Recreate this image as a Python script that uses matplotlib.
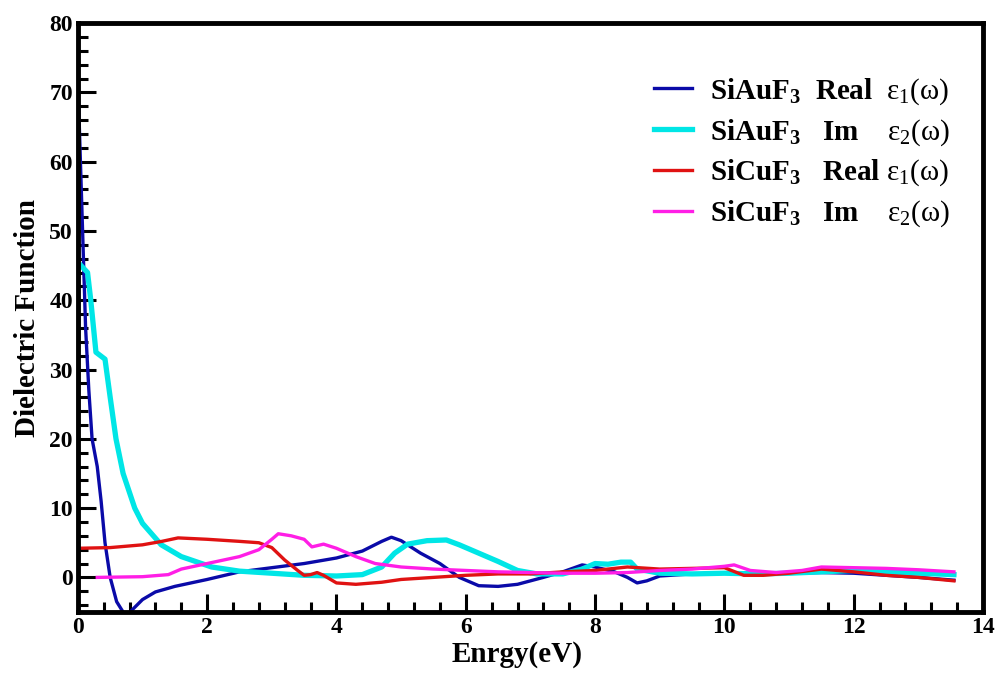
import matplotlib.pyplot as plt
from matplotlib.ticker import MultipleLocator

plt.rcParams['font.family'] = ['Liberation Serif', 'DejaVu Serif']
plt.rcParams['font.weight'] = 'bold'
plt.rcParams['mathtext.fontset'] = 'custom'
plt.rcParams['mathtext.rm'] = 'Liberation Serif:bold'
plt.rcParams['mathtext.sf'] = 'Liberation Serif:weight=normal'
plt.rcParams['mathtext.it'] = 'Liberation Serif:italic'

# SiAuF3 real part
au_re_x = [0.0, 0.04, 0.08, 0.12, 0.17, 0.22, 0.3, 0.36, 0.42, 0.5, 0.6, 0.7, 0.78, 0.85,
           1.0, 1.2, 1.5, 2.0, 2.5, 3.0, 3.5, 4.0, 4.4, 4.7, 4.85, 5.0, 5.3, 5.6, 5.9,
           6.2, 6.5, 6.8, 7.2, 7.5, 7.8, 8.0, 8.3, 8.5, 8.65, 8.8, 9.0, 9.5, 10.0,
           10.5, 11.0, 11.5, 12.0, 12.5, 13.0, 13.55]
au_re_y = [72, 60, 48, 36, 27, 20, 16, 11, 5, 0, -3.5, -5.0, -5.3, -4.6,
           -3.2, -2.1, -1.3, -0.3, 0.8, 1.4, 2.0, 2.8, 3.8, 5.2, 5.8, 5.3, 3.5, 2.0, 0.0,
           -1.2, -1.3, -1.0, 0.0, 0.8, 1.8, 1.5, 0.8, 0.0, -0.8, -0.5, 0.2, 0.5, 0.6,
           0.6, 0.6, 0.7, 0.6, 0.3, 0.0, -0.4]

# SiAuF3 imaginary part
au_im_x = [0.05, 0.15, 0.2, 0.28, 0.42, 0.5, 0.59, 0.7, 0.88, 1.0, 1.29, 1.6, 2.07, 2.5,
           3.0, 3.5, 4.0, 4.4, 4.7, 4.9, 5.1, 5.4, 5.7, 5.9, 6.2, 6.5, 6.8, 7.1, 7.5,
           7.8, 8.0, 8.2, 8.4, 8.55, 8.65, 9.0, 9.5, 10.0, 10.5, 11.0, 11.5, 12.0,
           12.5, 13.0, 13.55]
au_im_y = [45, 44, 40, 32.5, 31.5, 26, 20, 15, 10, 7.8, 4.7, 3.0, 1.5, 0.9,
           0.6, 0.3, 0.2, 0.4, 1.5, 3.5, 4.8, 5.3, 5.4, 4.7, 3.5, 2.3, 1.0, 0.5, 0.5,
           1.2, 2.0, 1.9, 2.2, 2.2, 1.2, 0.6, 0.5, 0.6, 0.5, 0.6, 0.8, 1.0,
           0.8, 0.6, 0.4]

# SiCuF3 real part
cu_re_x = [0.0, 0.5, 1.0, 1.3, 1.55, 2.0, 2.5, 2.8, 3.0, 3.2, 3.4, 3.5, 3.6, 3.7, 3.8,
           4.0, 4.3, 4.7, 5.0, 5.5, 6.0, 6.5, 7.0, 7.5, 8.0, 8.5, 9.0, 9.5, 10.0,
           10.3, 10.6, 11.0, 11.5, 12.0, 12.5, 13.0, 13.55]
cu_re_y = [4.2, 4.3, 4.7, 5.2, 5.7, 5.5, 5.2, 5.0, 4.3, 2.5, 1.0, 0.3, 0.4, 0.7, 0.3,
           -0.8, -1.0, -0.7, -0.3, 0.0, 0.3, 0.5, 0.5, 0.8, 1.0, 1.5, 1.2, 1.3, 1.4,
           0.3, 0.3, 0.6, 1.2, 0.8, 0.3, 0.0, -0.5]

# SiCuF3 imaginary part
cu_im_x = [0.3, 1.0, 1.4, 1.6, 2.0, 2.5, 2.8, 3.0, 3.1, 3.3, 3.5, 3.62, 3.8, 4.0, 4.3,
           4.6, 5.0, 5.5, 6.0, 6.5, 7.0, 7.5, 8.0, 8.5, 9.0, 9.5, 10.0, 10.15, 10.4,
           10.8, 11.2, 11.5, 12.0, 12.5, 13.0, 13.55]
cu_im_y = [0.0, 0.1, 0.4, 1.2, 2.0, 3.0, 4.0, 5.5, 6.3, 6.0, 5.5, 4.4, 4.8, 4.2, 3.0,
           2.0, 1.5, 1.2, 1.0, 0.8, 0.7, 0.6, 0.6, 0.7, 1.0, 1.2, 1.6, 1.8, 1.0,
           0.7, 1.0, 1.5, 1.4, 1.3, 1.1, 0.8]

labels = [
    r"SiAuF$_3$  Real  $\mathsf{ε_1(ω)}$",
    r"SiAuF$_3$   Im    $\mathsf{ε_2(ω)}$",
    r"SiCuF$_3$   Real $\mathsf{ε_1(ω)}$",
    r"SiCuF$_3$   Im    $\mathsf{ε_2(ω)}$",
]

fig = plt.figure(figsize=(9.98, 6.73), dpi=100)
ax = fig.add_axes([0.078, 0.0906, 0.907, 0.875])

ax.plot(au_re_x, au_re_y, color="#0a0aa8", linewidth=2.4, label=labels[0])
ax.plot(au_im_x, au_im_y, color="#00e6e6", linewidth=3.8, label=labels[1])
ax.plot(cu_re_x, cu_re_y, color="#e01212", linewidth=2.4, label=labels[2])
ax.plot(cu_im_x, cu_im_y, color="#ff1ee6", linewidth=2.4, label=labels[3])

ax.set_xlim(0, 14)
ax.set_ylim(-5, 80)
ax.xaxis.set_major_locator(MultipleLocator(2))
ax.xaxis.set_minor_locator(MultipleLocator(0.4))
ax.yaxis.set_major_locator(MultipleLocator(10))
ax.yaxis.set_minor_locator(MultipleLocator(2))
ax.tick_params(which="both", direction="in", top=False, right=False, width=2.2,
               labelsize=17)
ax.tick_params(which="major", length=13)
ax.tick_params(which="minor", length=7)
for s in ax.spines.values():
    s.set_linewidth(3.5)

ax.set_xlabel("Enrgy(eV)", fontsize=21, fontweight="bold")
ax.xaxis.set_label_coords(0.485, -0.05)
ax.set_ylabel("Dielectric Function", fontsize=21, fontweight="bold", labelpad=6)

ax.legend(loc="upper right", bbox_to_anchor=(0.979, 0.935), frameon=False,
          fontsize=21, handlelength=1.3, handletextpad=0.6, labelspacing=0.35,
          borderpad=0)

fig.savefig("out.png", dpi=100)
